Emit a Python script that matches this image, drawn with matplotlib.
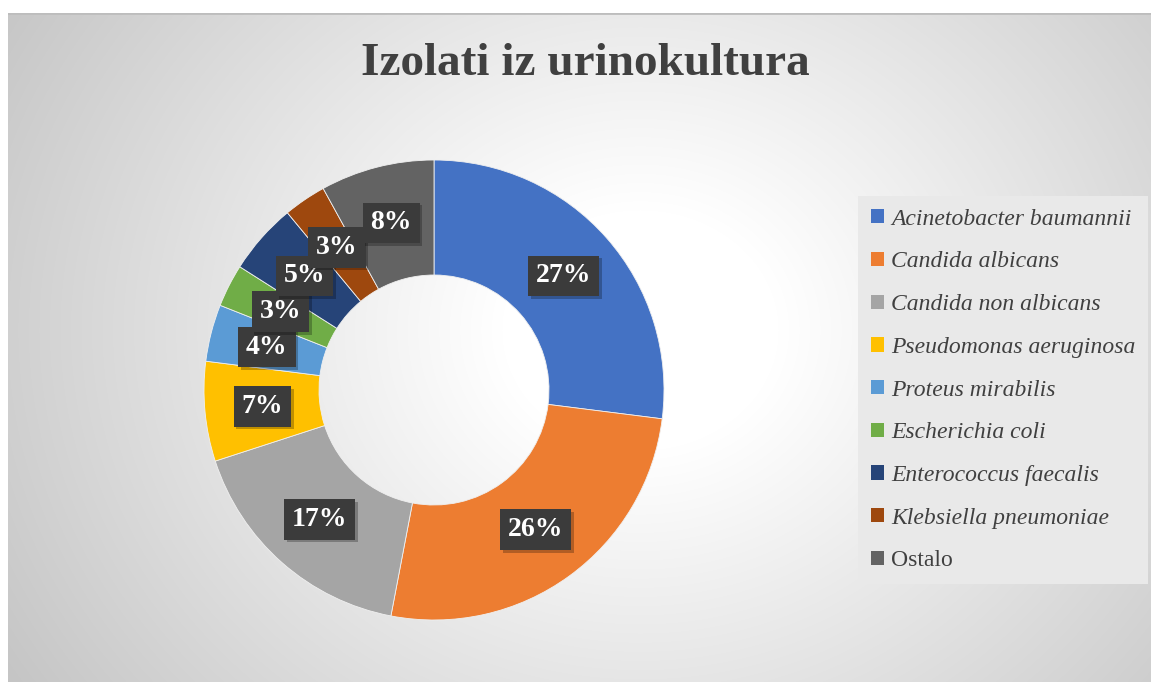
import numpy as np
import matplotlib
matplotlib.use('Agg')
import matplotlib.pyplot as plt
import matplotlib.patheffects as pe
from matplotlib.patches import Patch

title = 'Izolati iz urinokultura'
labels = ['Acinetobacter baumannii', 'Candida albicans', 'Candida non albicans',
          'Pseudomonas aeruginosa', 'Proteus mirabilis', 'Escherichia coli',
          'Enterococcus faecalis', 'Klebsiella pneumoniae', 'Ostalo']
values = [27, 26, 17, 7, 4, 3, 5, 3, 8]
colors = ['#4472c4', '#ed7d31', '#a5a5a5', '#ffc000', '#5b9bd5', '#70ad47',
          '#264478', '#9e480e', '#636363']

plt.rcParams['font.family'] = 'Liberation Serif'
plt.rcParams['hatch.color'] = '#4e4e4e'
plt.rcParams['hatch.linewidth'] = 1.2

W, H = 1151, 682
fig = plt.figure(figsize=(W / 100, H / 100), dpi=100)
fig.patch.set_facecolor('white')

# radial gradient background of the chart area
bg = fig.add_axes([8 / W, 0, (W - 8) / W, (H - 13) / H])
yy, xx = np.mgrid[13:H, 8:W]
d = np.sqrt(((xx - 640) / 1.15) ** 2 + (yy - 330) ** 2)
t = np.clip((d - 120) / 560, 0, 1)
shade = 1.0 - 0.24 * t
bg.imshow(np.dstack([shade] * 3), aspect='auto', extent=[0, 1, 0, 1])
bg.axhline(1, color='#bdbdbd', lw=2)
bg.set_axis_off()

# donut
cx, cy, R = 434, 390, 230
ax = fig.add_axes([(cx - R) / W, (H - cy - R) / H, 2 * R / W, 2 * R / H])
wedges, texts, autotexts = ax.pie(values, colors=colors, startangle=90, counterclock=False,
                                  autopct='%1.0f%%', pctdistance=0.75,
                                  wedgeprops=dict(width=0.5, edgecolor='#f0f0f0', linewidth=0.6),
                                  textprops=dict(color='white', fontsize=20, fontweight='bold'))
ax.set_xlim(-1, 1)
ax.set_ylim(-1, 1)
ax.set_aspect('equal')
for at in autotexts:
    at.set_bbox(dict(boxstyle='square,pad=0.28', facecolor='#3b3b3b', edgecolor='none',
                     hatch='..'))
    at.get_bbox_patch().set_path_effects([
        pe.SimplePatchShadow(offset=(2, -2), shadow_rgbFace='black', alpha=0.25),
        pe.Normal()])

fig.text(585 / W, 1 - 64 / H, title, ha='center', va='center', fontsize=34,
         fontweight='bold', color='#404040')

handles = [Patch(facecolor=c, edgecolor='none') for c in colors]
leg = fig.legend(handles, labels, loc='center left', bbox_to_anchor=(858 / W, 1 - 390 / H),
                 frameon=True, fancybox=False, facecolor='#e9e9e9', edgecolor='none',
                 framealpha=1, handlelength=0.55, handleheight=0.55, handletextpad=0.3,
                 labelspacing=0.92, borderpad=0.55, borderaxespad=0,
                 prop=dict(family='Liberation Serif', style='italic', size=17))
for txt in leg.get_texts():
    txt.set_color('#404040')
leg.get_texts()[-1].set_style('normal')

fig.savefig('out.png', dpi=100)
